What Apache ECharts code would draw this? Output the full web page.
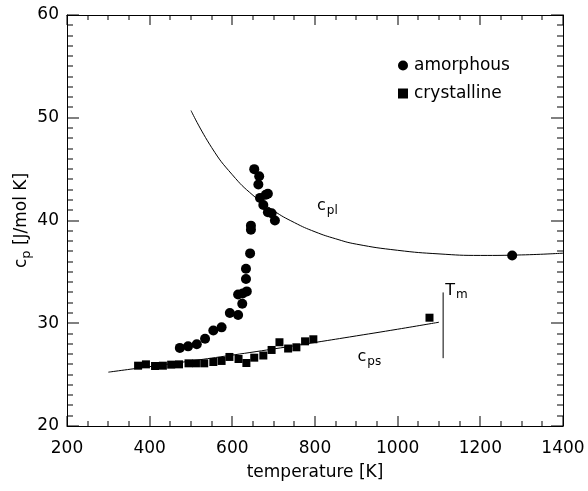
<!DOCTYPE html>
<html>
<head>
<meta charset="utf-8">
<script src="https://cdn.jsdelivr.net/npm/echarts@6/dist/echarts.min.js"></script>
<style>
html, body { margin: 0; padding: 0; background: #fff; }
#main { width: 588px; height: 491px; }
</style>
</head>
<body>
<div id="main"></div>
<script>
var FONT = 'DejaVu Sans';

// measured points
var amorphT  = [473, 493, 514, 534, 554, 574, 594, 614, 624, 614, 625, 635, 633, 633, 643, 645, 645, 653, 665, 663, 667, 681, 686, 675, 686, 695, 703, 1277];
var amorphCp = [27.6, 27.75, 27.95, 28.5, 29.3, 29.6, 31.0, 30.8, 31.9, 32.8, 32.9, 33.1, 34.3, 35.3, 36.8, 39.1, 39.5, 45.0, 44.3, 43.5, 42.2, 42.5, 42.6, 41.5, 40.8, 40.7, 40.0, 36.6];

var crystT  = [372, 391, 413, 432, 452, 471, 494, 512, 532, 554, 574, 593, 615, 634, 653, 675, 695, 714, 735, 755, 776, 796, 1077];
var crystCp = [25.87, 26.0, 25.84, 25.87, 25.97, 26.0, 26.1, 26.1, 26.1, 26.23, 26.33, 26.72, 26.52, 26.13, 26.65, 26.86, 27.4, 28.15, 27.54, 27.66, 28.24, 28.44, 30.54];

// fitted curves
var cplT  = [500, 550, 600, 650, 700, 750, 800, 850, 900, 1000, 1100, 1200, 1300, 1400];
var cplCp = [50.7, 47.1, 44.45, 42.45, 40.95, 39.8, 38.9, 38.22, 37.7, 37.1, 36.75, 36.6, 36.65, 36.82];

var cpsT  = [300, 400, 500, 600, 700, 800, 900, 1000, 1100];
var cpsCp = [25.24, 25.78, 26.33, 26.9, 27.5, 28.13, 28.77, 29.42, 30.1];

var tmT  = [1110, 1110];
var tmCp = [26.6, 33.0];

// ticks
var xMajor = [200, 400, 600, 800, 1000, 1200, 1400];
var yMajor = [20, 30, 40, 50, 60];
var xMinorStep = 50, yMinorStep = 1;

// annotation anchors
var notes = [
  { pos: [805, 41.45], main: 'c', sub: 'pl' },
  { pos: [903, 26.75], main: 'c', sub: 'ps' },
  { pos: [1115, 33.2], main: 'T', sub: 'm' }
];

function pairs(xs, ys) {
  var out = [];
  for (var i = 0; i < xs.length; i++) out.push([xs[i], ys[i]]);
  return out;
}

// tick marks: [x, y, length]
var xTickData = [], yTickData = [];
for (var v = 200; v <= 1400; v += xMinorStep) {
  xTickData.push([v, 20, xMajor.indexOf(v) >= 0 ? 10 : 5]);
}
for (var w = 20; w <= 60; w += yMinorStep) {
  yTickData.push([800, w, yMajor.indexOf(w) >= 0 ? 12 : 6]);
}

var richSub = {
  c: { fontFamily: FONT, fontSize: 16, color: '#000' },
  s: { fontFamily: FONT, fontSize: 12, color: '#000', padding: [10, 0, 0, 1] }
};

var chart = echarts.init(document.getElementById('main'));

function xAxisDef(pos, extra) {
  return Object.assign({
    type: 'value', min: 200, max: 1400, interval: 200, position: pos,
    axisLine: { show: true, lineStyle: { color: '#000', width: 1 } },
    axisTick: { show: false },
    axisLabel: { show: false },
    splitLine: { show: false }
  }, extra || {});
}
function yAxisDef(pos, extra) {
  return Object.assign({
    type: 'value', min: 20, max: 60, interval: 10, position: pos,
    axisLine: { show: true, lineStyle: { color: '#000', width: 1 } },
    axisTick: { show: false },
    axisLabel: { show: false },
    splitLine: { show: false }
  }, extra || {});
}

// y ticks drawn as thin rectangles (1px high) so they never collapse
function hTick(x1, x2, y) {
  return {
    type: 'rect',
    shape: { x: Math.min(x1, x2), y: Math.round(y) - 0.5, width: Math.abs(x2 - x1), height: 1 },
    style: { fill: '#000' }
  };
}
function vTick(x, y1, y2) {
  return {
    type: 'rect',
    shape: { x: Math.round(x) - 0.5, y: Math.min(y1, y2), width: 1, height: Math.abs(y2 - y1) },
    style: { fill: '#000' }
  };
}

var option = {
  backgroundColor: '#fff',
  animation: false,
  grid: { left: 67, right: 25, top: 15, bottom: 65 },
  legend: {
    orient: 'vertical',
    left: 393, top: 52,
    itemGap: 11,
    itemWidth: 10, itemHeight: 10,
    data: [
      { name: 'amorphous', icon: 'circle' },
      { name: 'crystalline', icon: 'rect' }
    ],
    textStyle: { fontFamily: FONT, fontSize: 17, color: '#000', padding: [0, 0, 0, 1] }
  },
  xAxis: [
    xAxisDef('bottom', {
      name: 'temperature [K]', nameLocation: 'middle', nameGap: 38,
      nameTextStyle: { fontFamily: FONT, fontSize: 17, color: '#000' },
      axisLabel: { show: true, margin: 14, fontFamily: FONT, fontSize: 17, color: '#000',
                   formatter: function (v) { return String(v); } }
    }),
    xAxisDef('top')
  ],
  yAxis: [
    yAxisDef('left', {
      name: '{c|c}{s|p}{c| [J/mol K]}', nameLocation: 'middle', nameGap: 34, nameRotate: 90,
      nameMoveOverlap: false,
      nameTextStyle: { rich: { c: { fontFamily: FONT, fontSize: 17, color: '#000' },
                               s: { fontFamily: FONT, fontSize: 13, color: '#000', padding: [10, 0, 0, 0] } } },
      axisLabel: { show: true, margin: 8, fontFamily: FONT, fontSize: 17, color: '#000' }
    }),
    yAxisDef('right')
  ],
  series: [
    {
      name: 'xticks', type: 'custom', silent: true, clip: false,
      encode: { x: 0, y: 1 },
      data: xTickData,
      renderItem: function (params, api) {
        var val = api.value(0), len = api.value(2);
        var a = api.coord([val, 20]);
        var b = api.coord([val, 60]);
        return { type: 'group', children: [
          vTick(a[0], a[1], a[1] - len),
          vTick(b[0], b[1], b[1] + len)
        ] };
      }
    },
    {
      name: 'yticks', type: 'custom', silent: true, clip: false,
      encode: { x: 0, y: 1 },
      data: yTickData,
      renderItem: function (params, api) {
        var val = api.value(1), len = api.value(2);
        var a = api.coord([200, val]);
        var b = api.coord([1400, val]);
        return { type: 'group', children: [
          hTick(a[0], a[0] + len, a[1]),
          hTick(b[0] - len, b[0], b[1])
        ] };
      }
    },
    {
      name: 'cpl', type: 'line', smooth: true, showSymbol: false, silent: true,
      lineStyle: { color: '#000', width: 1 },
      data: pairs(cplT, cplCp)
    },
    {
      name: 'cps', type: 'line', smooth: true, showSymbol: false, silent: true,
      lineStyle: { color: '#000', width: 1 },
      data: pairs(cpsT, cpsCp)
    },
    {
      name: 'Tm', type: 'line', showSymbol: false, silent: true,
      lineStyle: { color: '#000', width: 1 },
      data: pairs(tmT, tmCp)
    },
    {
      name: 'amorphous', type: 'scatter', symbol: 'circle', symbolSize: 10,
      itemStyle: { color: '#000', opacity: 1 },
      data: pairs(amorphT, amorphCp)
    },
    {
      name: 'crystalline', type: 'scatter', symbol: 'rect', symbolSize: 8,
      itemStyle: { color: '#000', opacity: 1 },
      data: pairs(crystT, crystCp)
    },
    {
      name: 'notes', type: 'scatter', symbolSize: 0, silent: true,
      itemStyle: { opacity: 1 },
      label: { show: true, position: 'right', distance: 0 },
      data: notes.map(function (n) {
        return {
          value: n.pos,
          label: { formatter: '{c|' + n.main + '}{s|' + n.sub + '}', rich: richSub }
        };
      })
    }
  ]
};

chart.setOption(option);
</script>
</body>
</html>
